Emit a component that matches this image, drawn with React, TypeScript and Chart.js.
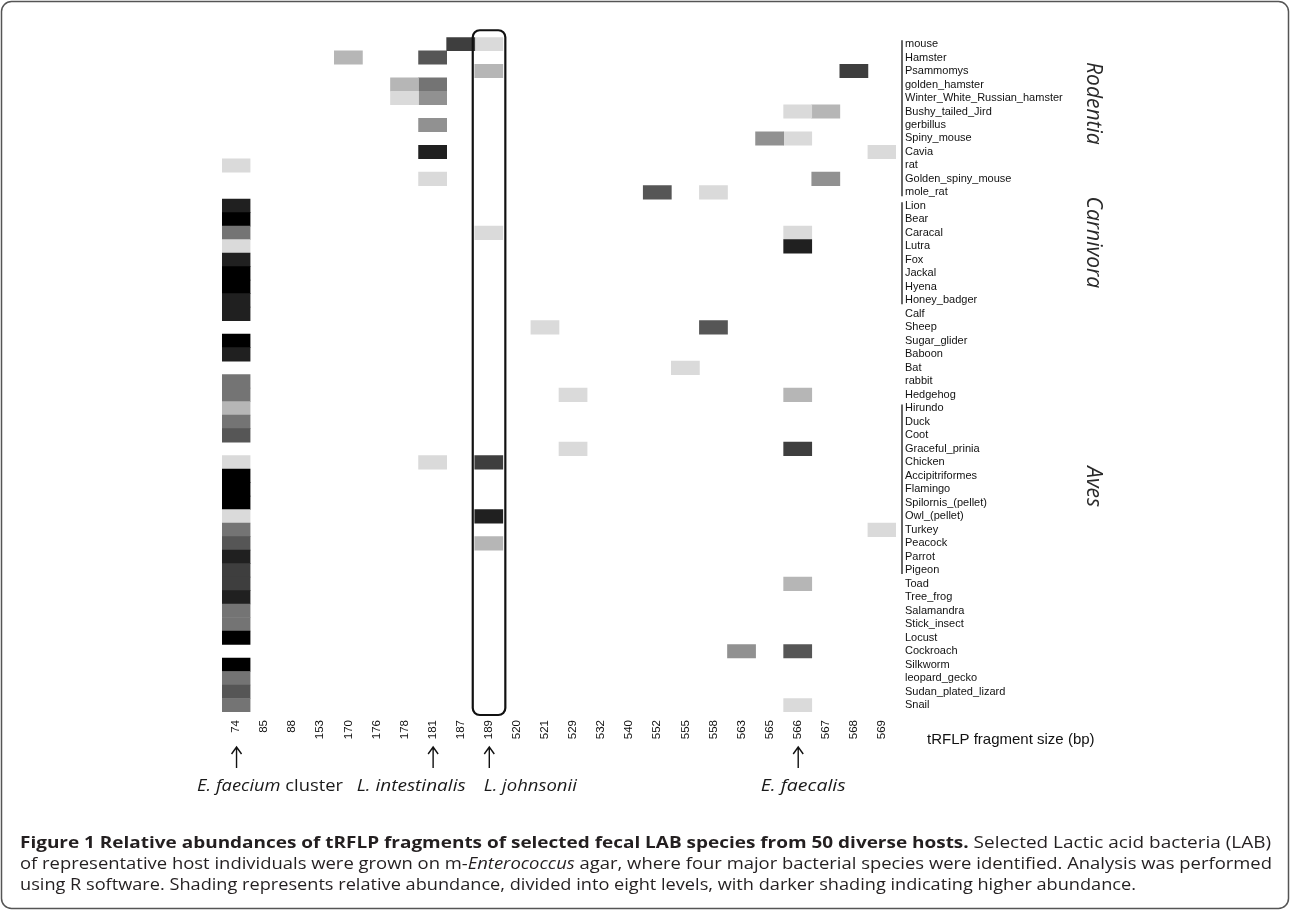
import React, { useEffect, useRef } from 'react';
import { Chart, registerables } from 'chart.js';

Chart.register(...registerables);

// ---------- data ----------
const fragments = ['74', '85', '88', '153', '170', '176', '178', '181', '187', '189', '520', '521', '529', '532', '540', '552', '555', '558', '563', '565', '566', '567', '568', '569'];

const hosts = [
  'mouse', 'Hamster', 'Psammomys', 'golden_hamster', 'Winter_White_Russian_hamster', 'Bushy_tailed_Jird',
  'gerbillus', 'Spiny_mouse', 'Cavia', 'rat', 'Golden_spiny_mouse', 'mole_rat',
  'Lion', 'Bear', 'Caracal', 'Lutra', 'Fox', 'Jackal', 'Hyena', 'Honey_badger',
  'Calf', 'Sheep', 'Sugar_glider', 'Baboon', 'Bat', 'rabbit', 'Hedgehog',
  'Hirundo', 'Duck', 'Coot', 'Graceful_prinia', 'Chicken', 'Accipitriformes', 'Flamingo',
  'Spilornis_(pellet)', 'Owl_(pellet)', 'Turkey', 'Peacock', 'Parrot', 'Pigeon',
  'Toad', 'Tree_frog', 'Salamandra', 'Stick_insect', 'Locust', 'Cockroach', 'Silkworm',
  'leopard_gecko', 'Sudan_plated_lizard', 'Snail',
];

// abundance level (1 = lowest .. 8 = highest, 0 = absent), one value per host
const levels74 = [
  0, 0, 0, 0, 0, 0, 0, 0, 0, 1, 0, 0,
  7, 8, 4, 1, 7, 8, 8, 7,
  7, 0, 8, 7, 0, 4, 4,
  2, 4, 5, 0, 1, 8, 8, 8, 1, 4, 5, 7, 6,
  6, 7, 4, 4, 8, 0, 8, 4, 5, 4,
];

// sparse columns: [host, level]
type Cell = [string, number];
const levels85: Cell[] = [];
const levels88: Cell[] = [];
const levels153: Cell[] = [];
const levels170: Cell[] = [['Hamster', 2]];
const levels176: Cell[] = [];
const levels178: Cell[] = [['golden_hamster', 2], ['Winter_White_Russian_hamster', 1]];
const levels181: Cell[] = [['Hamster', 5], ['golden_hamster', 4], ['Winter_White_Russian_hamster', 3], ['gerbillus', 3], ['Cavia', 7], ['Golden_spiny_mouse', 1], ['Chicken', 1]];
const levels187: Cell[] = [['mouse', 6]];
const levels189: Cell[] = [['mouse', 1], ['Psammomys', 2], ['Caracal', 1], ['Chicken', 6], ['Owl_(pellet)', 7], ['Peacock', 2]];
const levels520: Cell[] = [];
const levels521: Cell[] = [['Sheep', 1]];
const levels529: Cell[] = [['Hedgehog', 1], ['Graceful_prinia', 1]];
const levels532: Cell[] = [];
const levels540: Cell[] = [];
const levels552: Cell[] = [['mole_rat', 5]];
const levels555: Cell[] = [['Bat', 1]];
const levels558: Cell[] = [['mole_rat', 1], ['Sheep', 5]];
const levels563: Cell[] = [['Cockroach', 3]];
const levels565: Cell[] = [['Spiny_mouse', 3]];
const levels566: Cell[] = [['Bushy_tailed_Jird', 1], ['Spiny_mouse', 1], ['Caracal', 1], ['Lutra', 7], ['Hedgehog', 2], ['Graceful_prinia', 6], ['Toad', 2], ['Cockroach', 5], ['Snail', 1]];
const levels567: Cell[] = [['Bushy_tailed_Jird', 2], ['Golden_spiny_mouse', 3]];
const levels568: Cell[] = [['Psammomys', 6]];
const levels569: Cell[] = [['Cavia', 1], ['Turkey', 1]];

const sparseColumns: Cell[][] = [
  levels85, levels88, levels153, levels170, levels176, levels178, levels181, levels187, levels189,
  levels520, levels521, levels529, levels532, levels540, levels552, levels555, levels558,
  levels563, levels565, levels566, levels567, levels568, levels569,
];

const shades = ['#ffffff', '#dadada', '#b6b6b6', '#919191', '#747474', '#565656', '#3e3e3e', '#202020', '#000000'];

const groupNames = ['Rodentia', 'Carnivora', 'Aves'];
const groupFirst = ['mouse', 'Lion', 'Hirundo'];
const groupLast = ['mole_rat', 'Honey_badger', 'Pigeon'];

const markedFragments = ['74', '181', '189', '566'];
const highlightFragment = '189';

const xAxisTitle = 'tRFLP fragment size (bp)';

// ---------- build matrix ----------
function columnLevels(j: number): number[] {
  if (j === 0) return levels74;
  const arr = hosts.map(() => 0);
  for (const [h, lv] of sparseColumns[j - 1]) arr[hosts.indexOf(h)] = lv;
  return arr;
}

const datasets = fragments.map((f, j) => {
  const lv = columnLevels(j);
  return {
    label: f,
    data: lv.map((v) => (v > 0 ? [j - 0.5, j + 0.5] : null)),
    backgroundColor: lv.map((v) => shades[v]),
    borderWidth: 0,
    grouped: false,
    barPercentage: 1,
    categoryPercentage: 1,
  };
});

// ---------- drawing helpers ----------
type Run = { t: string; font: string };
function drawRuns(ctx: CanvasRenderingContext2D, runs: Run[], x: number, y: number, targetW: number) {
  let total = 0;
  const ws: number[] = [];
  for (const r of runs) {
    ctx.font = r.font;
    const w = ctx.measureText(r.t).width;
    ws.push(w);
    total += w;
  }
  const s = targetW / total;
  ctx.save();
  ctx.translate(x, y);
  ctx.scale(s, 1);
  ctx.textAlign = 'left';
  ctx.textBaseline = 'middle';
  let cx = 0;
  runs.forEach((r, i) => {
    ctx.font = r.font;
    ctx.fillText(r.t, cx, 0);
    cx += ws[i];
  });
  ctx.restore();
}

// vertical placement of the group titles, in row units
const groupTitleRow = [4.4, 14.7, 32.8];

const overlayPlugin = {
  id: 'overlay',
  afterDraw(chart: any) {
    const ctx: CanvasRenderingContext2D = chart.ctx;
    const xs = chart.scales.x;
    const ys = chart.scales.y;
    const area = chart.chartArea;
    const row0 = ys.getPixelForValue(0);
    const rowH = ys.getPixelForValue(1) - row0;
    ctx.save();

    // highlight box
    const bi = fragments.indexOf(highlightFragment);
    const bx0 = xs.getPixelForValue(bi - 0.5) - 2;
    const bx1 = xs.getPixelForValue(bi + 0.5) + 2.5;
    const by0 = area.top - 7;
    const by1 = area.bottom + 3;
    ctx.strokeStyle = '#111';
    ctx.lineWidth = 2.2;
    ctx.beginPath();
    (ctx as any).roundRect(bx0, by0, bx1 - bx0, by1 - by0, 7);
    ctx.stroke();

    // group brackets + labels
    ctx.strokeStyle = '#333';
    ctx.lineWidth = 1.5;
    groupNames.forEach((g, i) => {
      const y0 = ys.getPixelForValue(hosts.indexOf(groupFirst[i])) - rowH / 2 + 3;
      const y1 = ys.getPixelForValue(hosts.indexOf(groupLast[i])) + rowH / 2 - 3;
      const bx = area.right + 6;
      ctx.beginPath();
      ctx.moveTo(bx, y0);
      ctx.lineTo(bx, y1);
      ctx.stroke();
      ctx.save();
      ctx.translate(area.right + 197, row0 + groupTitleRow[i] * rowH);
      ctx.rotate(Math.PI / 2);
      ctx.fillStyle = '#2a2a2a';
      ctx.font = 'italic 21px "Open Sans"';
      ctx.textAlign = 'center';
      ctx.textBaseline = 'middle';
      ctx.fillText(g, 0, 0);
      ctx.restore();
    });

    // x-axis title
    ctx.fillStyle = '#111';
    ctx.font = '15px "Liberation Sans", Arial';
    ctx.textAlign = 'left';
    ctx.textBaseline = 'middle';
    ctx.fillText(xAxisTitle, area.right + 31, area.bottom + 28);

    // arrows
    ctx.strokeStyle = '#111';
    ctx.lineWidth = 1.4;
    for (const f of markedFragments) {
      const x = xs.getPixelForValue(fragments.indexOf(f)) + 0.5;
      const top = area.bottom + 35;
      const bot = area.bottom + 56;
      ctx.beginPath();
      ctx.moveTo(x, top);
      ctx.lineTo(x, bot);
      ctx.moveTo(x - 5, top + 7);
      ctx.lineTo(x, top);
      ctx.lineTo(x + 5, top + 7);
      ctx.stroke();
    }

    // species labels
    const sy = area.bottom + 74;
    const it = 'italic 17px "Open Sans"';
    const nr = '17px "Open Sans"';
    ctx.fillStyle = '#1a1a1a';
    const px = (f: string) => xs.getPixelForValue(fragments.indexOf(f));
    drawRuns(ctx, [{ t: 'E. faecium', font: it }, { t: ' cluster', font: nr }], px('74') - 39, sy, 146);
    drawRuns(ctx, [{ t: 'L. intestinalis', font: it }], px('181') - 76, sy, 109);
    drawRuns(ctx, [{ t: 'L. johnsonii', font: it }], px('189') - 5, sy, 93);
    drawRuns(ctx, [{ t: 'E. faecalis', font: it }], px('566') - 37, sy, 85);

    // caption
    const cb = 'bold 16.5px "Open Sans"';
    const cn = '16.5px "Open Sans"';
    const ci = 'italic 16.5px "Open Sans"';
    ctx.fillStyle = '#231f20';
    drawRuns(ctx, [
      { t: 'Figure 1 Relative abundances of tRFLP fragments of selected fecal LAB species from 50 diverse hosts.', font: cb },
      { t: ' Selected Lactic acid bacteria (LAB)', font: cn },
    ], 20, 843, 1251);
    drawRuns(ctx, [
      { t: 'of representative host individuals were grown on m-', font: cn },
      { t: 'Enterococcus', font: ci },
      { t: ' agar, where four major bacterial species were identified. Analysis was performed', font: cn },
    ], 20, 864, 1252);
    drawRuns(ctx, [
      { t: 'using R software. Shading represents relative abundance, divided into eight levels, with darker shading indicating higher abundance.', font: cn },
    ], 20, 885, 1116);

    // outer frame
    ctx.strokeStyle = '#555';
    ctx.lineWidth = 1.5;
    ctx.beginPath();
    (ctx as any).roundRect(1.5, 1.5, chart.width - 3, 907, 10);
    ctx.stroke();

    ctx.restore();
  },
};

export default function App() {
  const ref = useRef<HTMLCanvasElement>(null);
  useEffect(() => {
    document.body.style.margin = '0';
    const chart = new Chart(ref.current as HTMLCanvasElement, {
      type: 'bar',
      data: { labels: hosts, datasets: datasets as any },
      options: {
        indexAxis: 'y',
        animation: false,
        responsive: false,
        devicePixelRatio: 1,
        layout: { padding: { left: 222, top: 37.25, right: 0, bottom: 0 } },
        plugins: { legend: { display: false }, tooltip: { enabled: false } },
        scales: {
          x: {
            type: 'linear',
            min: -0.5,
            max: 23.5,
            grid: { display: false, drawTicks: false },
            border: { display: false },
            afterBuildTicks: (scale: any) => {
              scale.ticks = fragments.map((_, i) => ({ value: i }));
            },
            afterFit: (scale: any) => {
              scale.height = 200;
            },
            ticks: {
              autoSkip: false,
              minRotation: 90,
              maxRotation: 90,
              padding: 8,
              color: '#111',
              font: { family: '"Liberation Sans", Arial', size: 11.5 },
              callback: (_v: any, i: number) => fragments[i],
            },
          },
          y: {
            type: 'category',
            position: 'right',
            grid: { display: false, drawTicks: false },
            border: { display: false },
            afterFit: (scale: any) => {
              scale.width = 394;
            },
            ticks: {
              autoSkip: false,
              padding: 9,
              color: '#111',
              font: { family: '"Liberation Sans", Arial', size: 11 },
            },
          },
        },
      },
      plugins: [overlayPlugin],
    });
    return () => chart.destroy();
  }, []);
  return <canvas ref={ref} width={1290} height={912} style={{ display: 'block' }} />;
}
